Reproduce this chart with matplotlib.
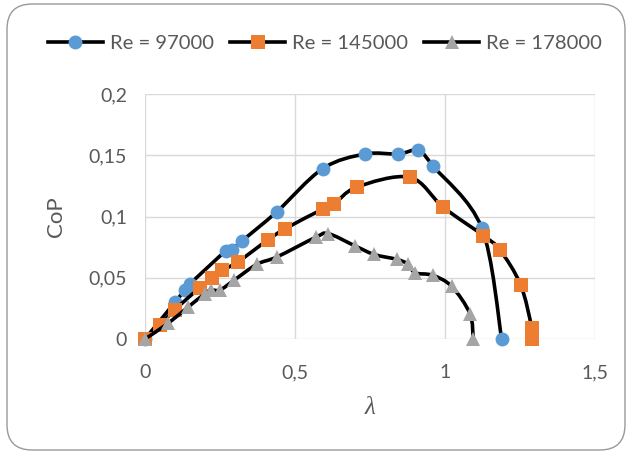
import matplotlib
matplotlib.use("Agg")
import matplotlib.pyplot as plt
import numpy as np
from matplotlib.path import Path
from matplotlib.patches import PathPatch, FancyBboxPatch
from matplotlib.lines import Line2D

# data
lam_97 = [0, 0.10, 0.133, 0.15, 0.27, 0.29, 0.323, 0.44, 0.592, 0.733, 0.844, 0.911, 0.961, 1.122, 1.189]
cop_97 = [0, 0.030, 0.040, 0.045, 0.072, 0.073, 0.080, 0.104, 0.139, 0.151, 0.151, 0.154, 0.141, 0.091, 0]

lam_145 = [0, 0.05, 0.10, 0.183, 0.223, 0.257, 0.31, 0.41, 0.467, 0.592, 0.63, 0.706, 0.883, 0.994, 1.128, 1.183, 1.252, 1.289, 1.291]
cop_145 = [0, 0.0115, 0.024, 0.042, 0.050, 0.056, 0.063, 0.081, 0.090, 0.106, 0.110, 0.124, 0.132, 0.1076, 0.0844, 0.0727, 0.0443, 0.0093, 0]

lam_178 = [0, 0.078, 0.143, 0.20, 0.22, 0.25, 0.297, 0.373, 0.44, 0.569, 0.611, 0.70, 0.764, 0.839, 0.878, 0.90, 0.959, 1.022, 1.083, 1.094]
cop_178 = [0, 0.013, 0.026, 0.037, 0.040, 0.040, 0.048, 0.061, 0.067, 0.083, 0.086, 0.076, 0.069, 0.065, 0.061, 0.054, 0.052, 0.043, 0.0207, 0]

series_labels = ["Re = 97000", "Re = 145000", "Re = 178000"]
xticks = [0, 0.5, 1, 1.5]
yticks = [0, 0.05, 0.1, 0.15, 0.2]

FONT = ["Lato", "DejaVu Sans"]
TXT = "#595959"
plt.rcParams["font.family"] = FONT


def smooth_path(xs, ys):
    # excel-style smoothed line: cubic bezier through the points
    p = np.column_stack([xs, ys]).astype(float)
    n = len(p)
    verts = [p[0]]
    codes = [Path.MOVETO]
    for i in range(n - 1):
        p0 = p[i - 1] if i > 0 else p[i]
        p3 = p[i + 2] if i + 2 < n else p[i + 1]
        c1 = p[i] + (p[i + 1] - p0) / 6.0
        c2 = p[i + 1] - (p3 - p[i]) / 6.0
        verts += [c1, c2, p[i + 1]]
        codes += [Path.CURVE4] * 3
    return Path(verts, codes)


fig = plt.figure(figsize=(6.3, 4.55), dpi=100)
ax = fig.add_axes([145 / 630, 1 - 339 / 455, 450 / 630, 245 / 455])

# chart frame
frame = FancyBboxPatch((7 / 630, 5 / 455), 618 / 630, 446 / 455,
                       boxstyle="round,pad=0,rounding_size=0.04",
                       transform=fig.transFigure, facecolor="none",
                       edgecolor="#999999", lw=1.0, mutation_aspect=630 / 455)
fig.patches.append(frame)

series = [
    (lam_97, cop_97, "o", "#5B9BD5", 10),
    (lam_145, cop_145, "s", "#ED7D31", 10),
    (lam_178, cop_178, "^", "#A5A5A5", 10),
]

handles = []
for k, (xs, ys, mk, col, ms) in enumerate(series):
    patch = PathPatch(smooth_path(xs, ys), facecolor="none", edgecolor="black",
                      lw=2.6, transform=ax.transData, zorder=3 + 2 * k, clip_on=False)
    ax.add_patch(patch)
    ax.plot(xs, ys, ls="none", marker=mk, color=col, ms=ms, mew=0,
            zorder=4 + 2 * k, clip_on=False)
    handles.append(Line2D([], [], color="black", lw=2.6, marker=mk,
                          markerfacecolor=col, markeredgewidth=0, ms=ms))

ax.set_xlim(0, 1.5)
ax.set_ylim(0, 0.2)
ax.set_xticks(xticks)
ax.set_yticks(yticks)
ax.set_xticklabels([("%g" % v).replace(".", ",") for v in xticks])
ax.set_yticklabels([("%g" % v).replace(".", ",") for v in yticks])
ax.grid(True, color="#d9d9d9", lw=1.0)
ax.set_axisbelow(True)
for s in ax.spines.values():
    s.set_visible(False)
ax.tick_params(length=0, labelsize=14, colors=TXT, pad=13)
ax.tick_params(axis="x", pad=18)

ax.set_ylabel("CoP", fontsize=16, color=TXT, labelpad=16)
fig.text(370 / 630, 1 - 408 / 455, "λ", fontsize=18, color=TXT,
         family=["Liberation Serif", "DejaVu Serif"], style="italic",
         ha="center", va="center")

leg = fig.legend(handles=handles, labels=series_labels, loc="center",
                 bbox_to_anchor=(0.5 + 10 / 630, 1 - 43 / 455), ncol=3, frameon=False,
                 fontsize=14.6, handlelength=2.7, handletextpad=0.35,
                 columnspacing=0.8)
for t in leg.get_texts():
    t.set_color(TXT)

fig.savefig("out.png", dpi=100)
